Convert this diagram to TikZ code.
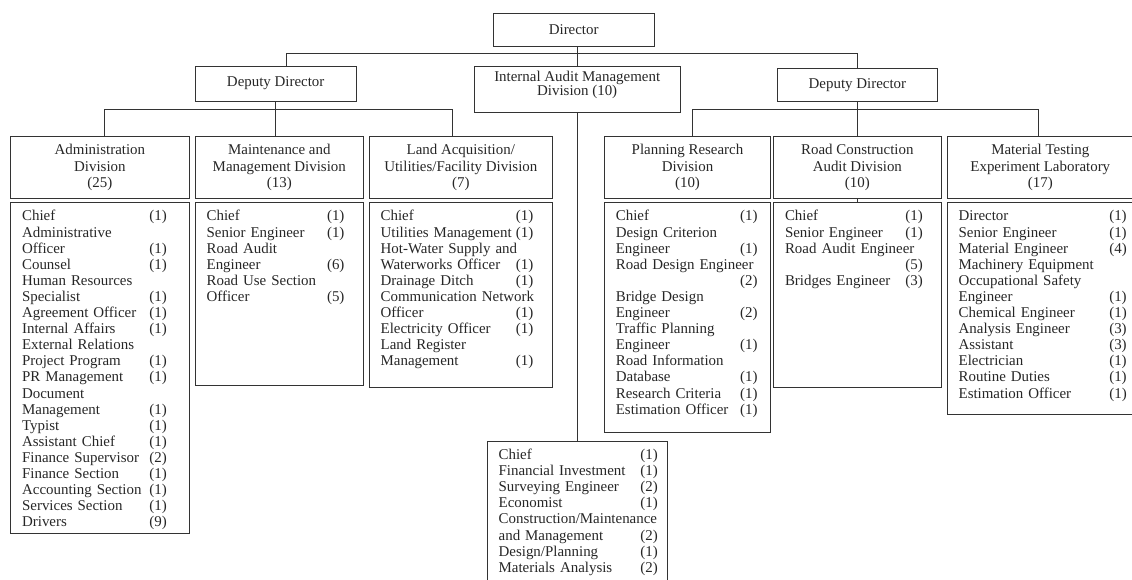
\documentclass[tikz,border=0pt]{standalone}
\usepackage{fontspec}
\setmainfont{Liberation Serif}
\usetikzlibrary{positioning}
\newlength\jobcol
\newcommand\job[2]{\makebox[\jobcol][l]{#1}#2}
\newcommand\tightfont{\fontsize{11.2}{10.3}\selectfont\setlength\lineskiplimit{-6pt}}

\begin{document}
\begin{tikzpicture}[x=0.75pt,y=-0.75pt,
	box/.style={ % 单位方框
		draw=black!80, line width=0.75pt, text=black!85, inner sep=0pt,
			align=center, font=\fontsize{11.2}{12.45}\selectfont
	},
	jobs/.style 2 args={ % 岗位清单, #1 文本宽度, #2 人数列位置
		draw=black!80, line width=0.75pt, text=black!85, align=left,
			text width=#1, inner xsep=8.5pt, inner ysep=3pt, text height=10.5pt,
			font=\fontsize{11.2}{12.075}\selectfont,
			execute at begin node={\setlength\jobcol{#2}}
	},
	link/.style={draw=black!80, line width=0.75pt}
]
	\useasboundingbox (0,0) rectangle (1132,579);
	%% 领导层
	\node[box, minimum width=120.5pt, minimum height=24.5pt] (b0) at (573.7,29.7) {Director};
	\node[box, minimum width=120.5pt, minimum height=26.25pt] (b1) at (275.7,83.5) {Deputy Director};
	\node[box, minimum width=154.3pt, text height=21.55pt, text depth=12.95pt,
		font=\tightfont, anchor=north] (b2) at (577.2,66) {Internal Audit Management\\Division (10)};
	\node[box, minimum width=120.5pt, minimum height=24.5pt] (b3) at (857.4,84.7) {Deputy Director};
	%% 各处
	\node[box, minimum width=133.7pt, minimum height=46.9pt] (c1) at (99.9,167.5) {Administration\\Division\\(25)};
	\node[box, minimum width=126pt, minimum height=46.9pt] (c2) at (279.3,167.5) {Maintenance and\\Management Division\\(13)};
	\node[box, minimum width=137.25pt, minimum height=46.9pt] (c3) at (460.8,167.5) {Land Acquisition/\\Utilities/Facility Division\\(7)};
	\node[box, minimum width=124.5pt, minimum height=46.9pt] (c4) at (687.5,167.5) {Planning Research\\Division\\(10)};
	\node[box, minimum width=125.5pt, minimum height=46.9pt] (c5) at (857.35,167.5) {Road Construction\\Audit Division\\(10)};
	\node[box, minimum width=139.5pt, minimum height=46.9pt] (c6) at (1040.3,167.5) {Material Testing\\Experiment Laboratory\\(17)};
	%% 岗位清单
	\node[jobs={116.7pt}{95.5pt}, text depth=231.75pt, below=2.4pt of c1] (l1) {%
		\job{Chief}{(1)}\\ Administrative\\ \job{Officer}{(1)}\\ \job{Counsel}{(1)}\\
		Human Resources\\ \job{Specialist}{(1)}\\ \job{Agreement Officer}{(1)}\\
		\job{Internal Affairs}{(1)}\\ External Relations\\ \job{Project Program}{(1)}\\
		\job{PR Management}{(1)}\\ Document\\ \job{Management}{(1)}\\ \job{Typist}{(1)}\\
		\job{Assistant Chief}{(1)}\\ \job{Finance Supervisor}{(2)}\\ \job{Finance Section}{(1)}\\
		\job{Accounting Section}{(1)}\\ \job{Services Section}{(1)}\\ \job{Drivers}{(9)}};
	\node[jobs={109pt}{90.3pt}, text depth=120.75pt, below=2.4pt of c2] (l2) {%
		\job{Chief}{(1)}\\ \job{Senior Engineer}{(1)}\\ Road Audit\\ \job{Engineer}{(6)}\\
		Road Use Section\\ \job{Officer}{(5)}};
	\node[jobs={120.25pt}{101.5pt}, text depth=122.25pt, below=2.4pt of c3] (l3) {%
		\job{Chief}{(1)}\\ \job{Utilities Management}{(1)}\\ Hot-Water Supply and\\
		\job{Waterworks Officer}{(1)}\\ \job{Drainage Ditch}{(1)}\\ Communication Network\\
		\job{Officer}{(1)}\\ \job{Electricity Officer}{(1)}\\ Land Register\\ \job{Management}{(1)}};
	\node[jobs={107.5pt}{93.3pt}, text depth=156pt, below=2.4pt of c4] (l4) {%
		\job{Chief}{(1)}\\ Design Criterion\\ \job{Engineer}{(1)}\\ Road Design Engineer\\
		\job{}{(2)}\\ Bridge Design\\ \job{Engineer}{(2)}\\ Traffic Planning\\ \job{Engineer}{(1)}\\
		Road Information\\ \job{Database}{(1)}\\ \job{Research Criteria}{(1)}\\ \job{Estimation Officer}{(1)}};
	\node[jobs={108.5pt}{90.3pt}, text depth=122.25pt, below=2.4pt of c5] (l5) {%
		\job{Chief}{(1)}\\ \job{Senior Engineer}{(1)}\\ Road Audit Engineer\\ \job{}{(5)}\\
		\job{Bridges Engineer}{(3)}};
	\node[jobs={122.5pt}{113pt}, text depth=142.5pt, below=2.4pt of c6] (l6) {%
		\job{Director}{(1)}\\ \job{Senior Engineer}{(1)}\\ \job{Material Engineer}{(4)}\\
		Machinery Equipment\\ Occupational Safety\\ \job{Engineer}{(1)}\\ \job{Chemical Engineer}{(1)}\\
		\job{Analysis Engineer}{(3)}\\ \job{Assistant}{(3)}\\ \job{Electrician}{(1)}\\
		\job{Routine Duties}{(1)}\\ \job{Estimation Officer}{(1)}};
	\node[jobs={118.5pt}{106.3pt}, text depth=102.75pt, anchor=north] (l7) at (577.65,441) {%
		\job{Chief}{(1)}\\ \job{Financial Investment}{(1)}\\ \job{Surveying Engineer}{(2)}\\
		\job{Economist}{(1)}\\ Construction/Maintenance\\ \job{and Management}{(2)}\\
		\job{Design/Planning}{(1)}\\ \job{Materials Analysis}{(2)}};
	%% 连线
	\draw[link] (b2.north |- b0.south) -- (b2.north);
	\draw[link] ([xshift=8.25pt]b1.north) |- ([yshift=-5pt]b0.south) -| (b3.north);
	\draw[link] (b1.south) -- (b1.south |- c2.north);
	\draw[link] ([xshift=3.3pt]c1.north) |- ([yshift=-5.8pt]b1.south) -| ([xshift=-6.4pt]c3.north);
	\draw[link] (b3.south) -- (b3.south |- c5.north);
	\draw[link] ([xshift=3.9pt]c4.north) |- ([yshift=-5.8pt]b3.south) -| ([xshift=-1pt]c6.north);
	\draw[link] (c5.south) -- (c5.south |- l5.north);
	\draw[link] (b2.south) -- (b2.south |- l7.north);
\end{tikzpicture}
\end{document}
